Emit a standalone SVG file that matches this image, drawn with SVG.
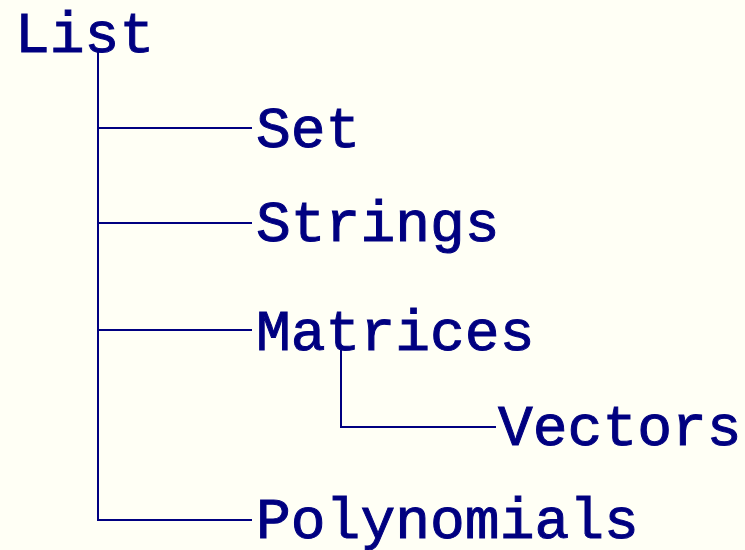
<svg xmlns="http://www.w3.org/2000/svg" width="745" height="550" viewBox="0 0 745 550">
<style>
.t{font-family:"Liberation Mono","DejaVu Sans Mono",monospace;font-size:58px;fill:#000080;stroke:#000080;stroke-width:1}
.c{stroke:#000080;stroke-width:2;fill:none}
</style>
<rect width="745" height="550" fill="#fffff5"/>
<g id="connectors">
<path class="c" d="M98,52 V520 H252"/>
<path class="c" d="M98,128 H252"/>
<path class="c" d="M98,223 H252"/>
<path class="c" d="M98,330 H252"/>
<path class="c" d="M341,350 V427 H496"/>
</g>
<g id="list"><text class="t" x="15" y="52">List</text></g>
<g id="set"><text class="t" x="256" y="147">Set</text></g>
<g id="strings"><text class="t" x="256" y="241">Strings</text></g>
<g id="matrices"><text class="t" x="256" y="350">Matrices</text></g>
<g id="vectors"><text class="t" x="498" y="445">Vectors</text></g>
<g id="polynomials"><text class="t" x="256" y="538">Polynomials</text></g>
</svg>
